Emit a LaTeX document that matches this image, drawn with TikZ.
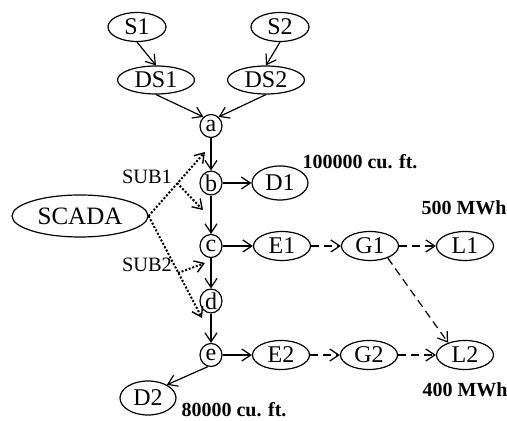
\documentclass[tikz,border=0pt]{standalone}
\usepackage{fontspec}
\setmainfont{Liberation Serif}
\usetikzlibrary{shapes.geometric,arrows.meta}
\begin{document}
\begin{tikzpicture}[x=0.5pt,y=-0.5pt,
  every node/.style={font=\fontsize{12}{14}\selectfont},
  el/.style={draw, ellipse, inner sep=0pt, line width=0.6pt},
  srcbox/.style={el, minimum width=29pt, minimum height=14.5pt},
  dsbox/.style={el, minimum width=38.5pt, minimum height=14pt},
  circbox/.style={el, minimum width=11pt, minimum height=11.5pt},
  dbox/.style={el, minimum width=28pt, minimum height=17pt},
  rowbox/.style={el, minimum width=28.5pt, minimum height=14.5pt},
  scbox/.style={el, minimum width=68pt, minimum height=21pt, font=\fontsize{12.5}{14}\selectfont},
  arr/.style={line width=0.6pt, -{Straight Barb[length=4.5pt,width=6pt,line width=0.6pt]}},
  dsh/.style={dash pattern=on 4pt off 2.5pt},
  dotarr/.style={line width=1pt, dash pattern=on 1pt off 0.9pt, -{Straight Barb[length=4.5pt,width=6pt,line width=0.7pt]}},
  lbl/.style={inner sep=0pt, font=\fontsize{10}{12}\selectfont\bfseries},
  sublbl/.style={inner sep=0pt, font=\fontsize{10.2}{12}\selectfont}
]
\useasboundingbox (0,0) rectangle (507,421);

\node[srcbox] (S1) at (137,27) {S1};
\node[srcbox] (S2) at (280,27) {S2};
\node[dsbox] (DS1) at (156,80) {DS1};
\node[dsbox] (DS2) at (266,80) {DS2};
\node[circbox] (a) at (211,126) {a};
\node[circbox] (b) at (211,183) {b};
\node[circbox] (c) at (211,246) {c};
\node[circbox] (d) at (211,301) {d};
\node[circbox] (e) at (211,355) {e};
\node[dbox] (D1) at (280,183) {D1};
\node[dbox] (D2) at (148,398) {D2};
\node[rowbox] (E1) at (282,246) {E1};
\node[rowbox] (G1) at (370,246) {G1};
\node[rowbox] (L1) at (465,246) {L1};
\node[rowbox] (E2) at (281,355) {E2};
\node[rowbox] (G2) at (369,355) {G2};
\node[rowbox] (L2) at (465,355) {L2};
\node[scbox] (SCADA) at (80,216) {SCADA};

\node[lbl] (q1) at (360,162) {100000 cu. ft.};
\node[lbl] (q2) at (464,208) {500 MWh};
\node[lbl] (q3) at (465,390) {400 MWh};
\node[lbl] (q4) at (234,410) {80000 cu. ft.};
\node[sublbl] (sub1) at (147,177) {SUB1};
\node[sublbl] (sub2) at (147,265) {SUB2};

\draw[arr] (S1.south) -- (DS1.north);
\draw[arr] (S2.south) -- (DS2.north);
\draw[arr] (DS1.south) -- (a.130);
\draw[arr] (DS2.south) -- (a.50);
\draw[arr] (a) -- (b);
\draw[arr] (b) -- (c);
\draw[arr] (c) -- (d);
\draw[arr] (d) -- (e);
\draw[arr] (b) -- (D1);
\draw[arr] (c) -- (E1);
\draw[arr] (e) -- (E2);
\draw[arr] (e.-105) -- (D2.35);
\draw[arr,dsh] (E1) -- (G1);
\draw[arr,dsh] (G1) -- (L1);
\draw[arr,dsh] (E2) -- (G2);
\draw[arr,dsh] (G2) -- (L2);
\draw[arr,dsh] (G1.-34) -- (L2.144);

\coordinate (t1) at (205,152);
\coordinate (m1) at (177,183);
\coordinate (t2) at (203,210);
\coordinate (t3) at (205,263);
\coordinate (m2) at (178,273);
\coordinate (t4) at (202,318);
\draw[dotarr] (SCADA.east) -- (t1);
\draw[dotarr] (m1) -- (t2);
\draw[dotarr] (SCADA.east) -- (t4);
\draw[dotarr] (m2) -- (t3);
\end{tikzpicture}
\end{document}
